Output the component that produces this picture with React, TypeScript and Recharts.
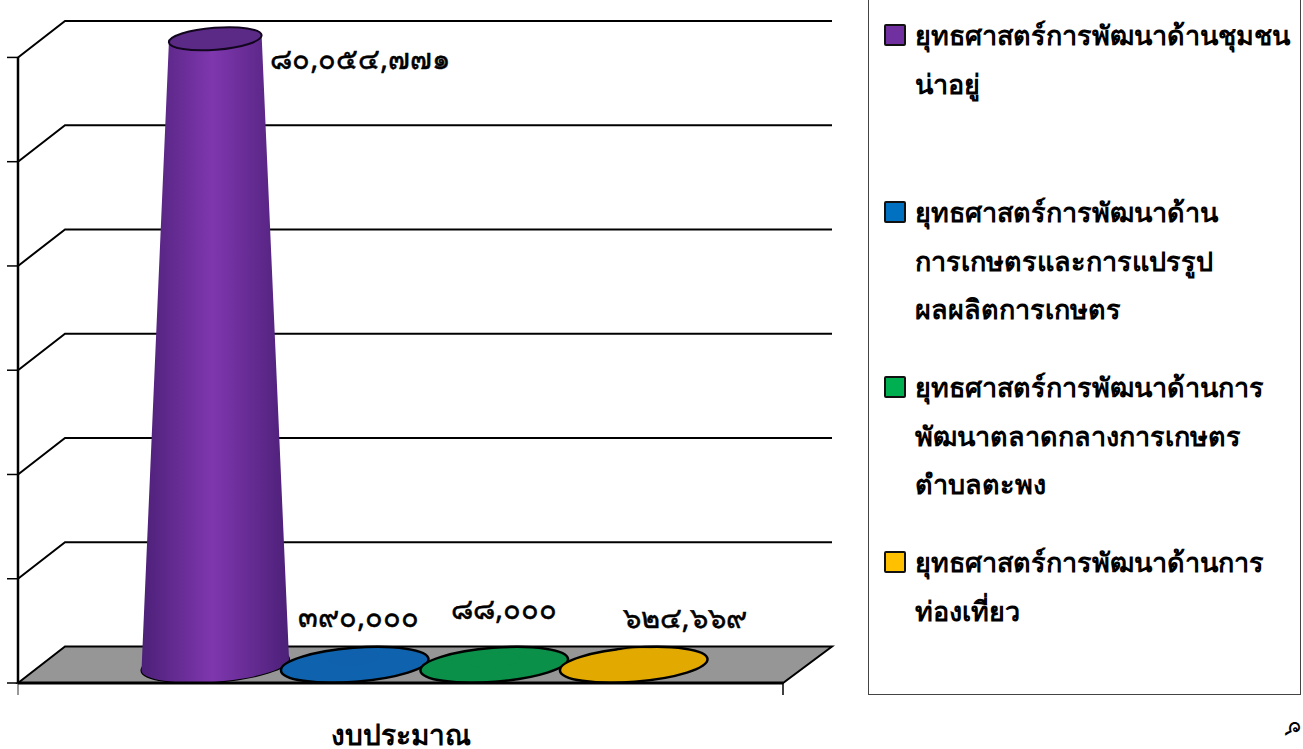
import React from 'react'
import { BarChart, Bar, XAxis, YAxis, CartesianGrid, Legend, LabelList } from 'recharts'

const CATEGORIES = ['งบประมาณ']

const SERIES_NAMES = [
  'ยุทธศาสตร์การพัฒนาด้านชุมชน\nน่าอยู่',
  'ยุทธศาสตร์การพัฒนาด้าน\nการเกษตรและการแปรรูป\nผลผลิตการเกษตร',
  'ยุทธศาสตร์การพัฒนาด้านการ\nพัฒนาตลาดกลางการเกษตร\nตำบลตะพง',
  'ยุทธศาสตร์การพัฒนาด้านการ\nท่องเที่ยว',
]
const SERIES_VALUES = [80054771, 390000, 88000, 624669]
const VALUE_LABELS = ['๘๐,๐๕๔,๗๗๑', '๓๙๐,๐๐๐', '๘๘,๐๐๐', '๖๒๔,๖๖๙']
const Y_TICKS = [0, 13333333, 26666667, 40000000, 53333333, 66666667, 80000000]

const SWATCH = ['#7030a0', '#0070c0', '#00b050', '#ffc000']
const EDGE = ['#4c2078', '#0b5598', '#0a7f3e', '#d09c00']
const MID = ['#7f37ae', '#0f62ad', '#0a9048', '#e2a900']
const TOP = ['#5a2a86', '#0d60ac', '#0a8e46', '#e0a800']

// front wall to back wall shift of the fake 3d box
const DEPTH_X = 47
const DEPTH_Y = 36.5
const PLOT_BOTTOM = 683
const PLOT_HEIGHT = 626
const FONT = '"Noto Sans", Tahoma, sans-serif'

// label nudges relative to the middle of each column's base
const LABEL_DX = [145, 4, 10, 51]
const LABEL_Y = [57, 615, 607, 616]
const LEGEND_TOPS = [10, 187, 362, 537]

const chartData = CATEGORIES.map(name => {
  const row: Record<string, string | number> = { name }
  SERIES_VALUES.forEach((v, i) => { row[`s${i}`] = v })
  return row
})

const TILT = 4.5

const Cone = (props: any) => {
  const { x, y, width, height, seriesIndex: si } = props
  const cx = x + width / 2 + DEPTH_X / 2
  const baseY = y + height - DEPTH_Y / 2
  const topY = y - DEPTH_Y / 2
  const rb = 74
  const ryb = 17
  const rot = `rotate(${-TILT} ${cx} `

  // very short columns stay inside their base disc, with only a faint tip
  if (height < 20) {
    return (
      <g>
        <ellipse cx={cx} cy={baseY} rx={rb} ry={ryb} transform={`${rot}${baseY})`} fill={`url(#cone${si})`} stroke="#000" strokeWidth={2.5} />
        <ellipse cx={cx} cy={baseY - height - 4} rx={rb * 0.35} ry={ryb * 0.45} transform={`${rot}${baseY})`} fill={MID[si]} opacity={0.8} />
      </g>
    )
  }

  const t = height / PLOT_HEIGHT
  const rt = rb - 27.5 * t
  const ryt = ryb - 6 * t
  const rad = (TILT * Math.PI) / 180
  const c = Math.cos(rad)
  const s = Math.sin(rad)
  const body = `M${cx - rb * c},${baseY + rb * s} A${rb},${ryb} ${-TILT} 0 0 ${cx + rb * c},${baseY - rb * s} L${cx + rt * c},${topY - rt * s} L${cx - rt * c},${topY + rt * s} Z`
  return (
    <g>
      <ellipse cx={cx} cy={baseY} rx={rb} ry={ryb} transform={`${rot}${baseY})`} fill={EDGE[si]} stroke="#000" strokeWidth={2} />
      <path d={body} fill={`url(#cone${si})`} />
      <ellipse cx={cx} cy={topY} rx={rt} ry={ryt} transform={`${rot}${topY})`} fill={TOP[si]} stroke="#12061f" strokeWidth={2} />
    </g>
  )
}

const wallLine = (props: any) => {
  const { x1, y1, x2, key } = props
  const isFloor = Math.abs(y1 - PLOT_BOTTOM) < 0.5
  const backY = y1 - DEPTH_Y
  return (
    <g key={key}>
      {isFloor && (
        <>
          <polygon
            points={`${x1},${y1} ${x1 + DEPTH_X},${backY} ${x2 + DEPTH_X + 2},${backY} ${x2},${y1}`}
            fill="#969696"
            stroke="#000"
            strokeWidth={2}
          />
          <line x1={x1} y1={y1} x2={x1} y2={y1 + 12} stroke="#777" strokeWidth={1.5} />
          <line x1={x2} y1={y1} x2={x2} y2={y1 + 12} stroke="#000" strokeWidth={1.5} />
        </>
      )}
      {!isFloor && (
        <polyline
          points={`${x1},${y1} ${x1 + DEPTH_X},${backY} ${x2 + DEPTH_X + 2},${backY}`}
          fill="none"
          stroke="#000"
          strokeWidth={2}
        />
      )}
    </g>
  )
}

const LegendBox = ({ payload }: any) => (
  <div style={{ position: 'relative', width: 433, height: 705, border: '1.5px solid #444', boxSizing: 'border-box', background: '#fff', fontFamily: FONT }}>
    {(payload ?? []).map((item: any, i: number) => (
      <div key={i} style={{ position: 'absolute', left: 15, top: LEGEND_TOPS[i] + 10 }}>
        <div style={{ position: 'absolute', left: 0, top: 13, width: 22, height: 22, boxSizing: 'border-box', border: '2.5px solid #111', borderRadius: 2, background: SWATCH[i] }} />
        {String(item.value).split('\n').map(line => (
          <div key={line} style={{ marginLeft: 31, height: 48.5, lineHeight: '48.5px', fontSize: 27, fontWeight: 700, color: '#000', whiteSpace: 'nowrap' }}>
            {line}
          </div>
        ))}
      </div>
    ))}
  </div>
)

export default function App() {
  return (
    <div style={{ position: 'absolute', left: 0, top: 0, width: 1303, height: 749, background: '#fff', overflow: 'hidden' }}>
      <BarChart
        width={1303}
        height={749}
        data={chartData}
        margin={{ top: 57, right: 520, bottom: 0, left: 0 }}
        barCategoryGap={103.5}
        barGap={0}
        barSize={139.5}
      >
        <defs>
          {EDGE.map((edge, i) => (
            <linearGradient key={i} id={`cone${i}`} x1="0" y1="0" x2="1" y2="0">
              <stop offset="0%" stopColor={i === 0 ? edge : MID[i]} />
              <stop offset="48%" stopColor={MID[i]} />
              <stop offset="100%" stopColor={i === 0 ? edge : MID[i]} />
            </linearGradient>
          ))}
        </defs>
        <CartesianGrid vertical={false} horizontal={wallLine} syncWithTicks />
        <XAxis
          dataKey="name"
          height={66}
          tickLine={false}
          axisLine={{ stroke: '#000', strokeWidth: 3 }}
          tickMargin={36}
          tick={{ fontSize: 28, fontWeight: 700, fill: '#000', fontFamily: FONT }}
        />
        <YAxis
          width={18}
          domain={[0, 80000000]}
          ticks={Y_TICKS}
          interval={0}
          tick={() => <g />}
          tickSize={11}
          tickLine={{ stroke: '#000', strokeWidth: 1.5 }}
          axisLine={{ stroke: '#000', strokeWidth: 2.5 }}
        />
        <Legend
          layout="vertical"
          align="center"
          verticalAlign="middle"
          itemSorter={null}
          content={<LegendBox />}
          wrapperStyle={{ left: 868, top: -10, width: 433, height: 705 }}
        />
        {SERIES_NAMES.map((name, i) => (
          <Bar
            key={name}
            dataKey={`s${i}`}
            name={name}
            fill={SWATCH[i]}
            isAnimationActive={false}
            shape={(p: any) => <Cone {...p} seriesIndex={i} />}
          >
            <LabelList
              dataKey={`s${i}`}
              content={(p: any) => (
                <text
                  x={p.x + p.width / 2 + DEPTH_X / 2 + LABEL_DX[i]}
                  y={LABEL_Y[i]}
                  textAnchor="middle"
                  dominantBaseline="central"
                  fontSize={29}
                  fontWeight={400}
                  fontFamily={FONT}
                  fill="#000"
                  stroke="#000"
                  strokeWidth={0.5}
                >
                  {VALUE_LABELS[i]}
                </text>
              )}
            />
          </Bar>
        ))}
      </BarChart>
      <div style={{ position: 'absolute', left: 1279, top: 710, width: 24, height: 36, lineHeight: '36px', textAlign: 'center', fontFamily: FONT, fontSize: 24, transform: 'rotate(-90deg)' }}>๖</div>
    </div>
  )
}
